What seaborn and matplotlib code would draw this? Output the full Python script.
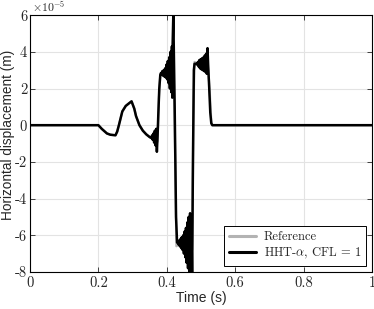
import matplotlib
matplotlib.use("Agg")
import matplotlib.pyplot as plt
import seaborn as sns
import pandas as pd

# values in units of 1e-5 m
t_ref = [0, 0.2, 0.21, 0.225, 0.235, 0.25, 0.255, 0.26, 0.27, 0.28, 0.29, 0.297,
         0.305, 0.31, 0.32, 0.33, 0.34, 0.35, 0.36, 0.37, 0.373, 0.377, 0.381,
         0.39, 0.40, 0.41, 0.42, 0.423, 0.428, 0.435, 0.45, 0.465, 0.474, 0.477,
         0.481, 0.49, 0.51, 0.52, 0.525, 0.53, 0.533, 1.0]
y_ref = [0, 0, -0.2, -0.45, -0.52, -0.55, -0.35, 0.0, 0.75, 1.05, 1.2, 1.3,
         0.9, 0.5, 0.0, -0.3, -0.5, -0.65, -0.75, -0.85, -0.9, 1.5, 2.7,
         2.8, 2.9, 3.0, 3.1, 0.0, -6.6, -6.5, -6.6, -6.7, -6.8, 0.0,
         3.45, 3.35, 3.3, 3.3, 2.0, 0.2, 0, 0]

t_hht = [0, 0.2, 0.21, 0.225, 0.235, 0.25, 0.255, 0.26, 0.27, 0.28, 0.29, 0.297,
         0.305, 0.31, 0.32, 0.33, 0.34, 0.35,
         0.355, 0.357, 0.359, 0.361, 0.363, 0.365, 0.367, 0.369, 0.371, 0.373,
         0.375, 0.378, 0.381,
         0.383, 0.385, 0.387, 0.389, 0.391, 0.393, 0.395, 0.397, 0.399, 0.401,
         0.403, 0.405, 0.407, 0.409, 0.411, 0.413, 0.415, 0.416, 0.417, 0.419,
         0.423, 0.427, 0.430,
         0.432, 0.434, 0.436, 0.438, 0.440, 0.442, 0.444, 0.446, 0.448, 0.450,
         0.452, 0.454, 0.456, 0.458, 0.460, 0.462, 0.464, 0.466, 0.468, 0.470,
         0.472, 0.474, 0.476, 0.479,
         0.481, 0.485, 0.489, 0.491, 0.493, 0.495, 0.497, 0.499, 0.501, 0.503,
         0.505, 0.507, 0.509, 0.511, 0.513, 0.515, 0.517, 0.519, 0.521, 0.524,
         0.527, 0.530, 0.533, 1.0]
y_hht = [0, 0, -0.2, -0.45, -0.52, -0.55, -0.35, 0.0, 0.75, 1.05, 1.2, 1.3,
         0.9, 0.5, 0.0, -0.3, -0.5, -0.65,
         -0.7, -0.55, -0.8, -0.45, -0.95, -0.3, -1.1, -0.2, -1.45, -0.6,
         0.5, 2.0, 2.75,
         2.85, 2.75, 2.95, 2.7, 3.0, 2.65, 3.1, 2.6, 3.3, 2.5,
         3.5, 2.3, 3.7, 2.0, 4.0, 1.8, 4.3, 1.5, 4.4, 6.0,
         1.0, -5.0, -6.4,
         -6.3, -6.5, -6.3, -6.6, -6.2, -6.7, -6.1, -6.8, -6.0, -7.0,
         -5.8, -7.2, -5.6, -7.5, -5.3, -7.8, -5.0, -8.3, -4.8, -8.6,
         -5.5, -8.5, -3.0, 3.0,
         3.35, 3.35, 3.3, 3.45, 3.2, 3.55, 3.1, 3.6, 3.05, 3.65,
         3.0, 3.7, 2.95, 3.8, 2.9, 3.9, 2.8, 4.2, 3.2, 2.0,
         0.7, 0.1, 0, 0]

xticks = [0, 0.2, 0.4, 0.6, 0.8, 1]
xtick_labels = ["0", "0.2", "0.4", "0.6", "0.8", "1"]
yticks = [-8, -6, -4, -2, 0, 2, 4, 6]
ytick_labels = ["-8", "-6", "-4", "-2", "0", "2", "4", "6"]

sns.set_style("ticks")
plt.rcParams["font.family"] = ["Liberation Sans", "DejaVu Sans"]
plt.rcParams["mathtext.fontset"] = "cm"

df_ref = pd.DataFrame({"t": t_ref, "y": y_ref})
df_hht = pd.DataFrame({"t": t_hht, "y": y_hht})

fig = plt.figure(figsize=(3.74, 3.09), dpi=100)
ax = fig.add_axes([0.080, 0.120, 0.915, 0.831])

sns.lineplot(data=df_ref, x="t", y="y", ax=ax, color="#b3b3b3", linewidth=1.6,
             estimator=None, sort=False, label="Reference")
sns.lineplot(data=df_hht, x="t", y="y", ax=ax, color="black", linewidth=1.8,
             estimator=None, sort=False, label=r"HHT-$\alpha$, CFL = 1")

ax.set_xlim(0, 1)
ax.set_ylim(-8, 6)
ax.set_xticks(xticks)
ax.set_xticklabels(xtick_labels, fontsize=10.5, family="cmr10")
ax.set_yticks(yticks)
ax.set_yticklabels(ytick_labels, fontsize=10.5, family="cmr10")
ax.tick_params(direction="in", length=3.5, width=0.6, top=True, right=True)
ax.tick_params(axis="y", pad=2)
ax.tick_params(axis="x", pad=3)
ax.grid(True, color="#e3e3e3", linewidth=0.8)
ax.set_axisbelow(True)
for s in ax.spines.values():
    s.set_linewidth(0.8)
    s.set_color("black")

ax.set_xlabel("Time (s)", fontsize=10)
ax.xaxis.set_label_coords(0.5, -0.074)
ax.set_ylabel("Horizontal displacement (m)", fontsize=9.8)
ax.yaxis.set_label_coords(-0.045, 0.535)
ax.text(0.005, 1.01, r"$\times10^{-5}$", transform=ax.transAxes, fontsize=8.5,
        ha="left", va="baseline")

leg = ax.legend(loc="lower right", fontsize=9, fancybox=False, framealpha=1,
                edgecolor="black", borderaxespad=0.5, handlelength=2.2,
                borderpad=0.35, labelspacing=0.25, handletextpad=0.6)
leg.get_frame().set_linewidth(0.7)
for txt in leg.get_texts():
    txt.set_fontfamily("cmr10")
for h in leg.get_lines():
    h.set_linewidth(2.2)

fig.savefig("out.png", dpi=100)
